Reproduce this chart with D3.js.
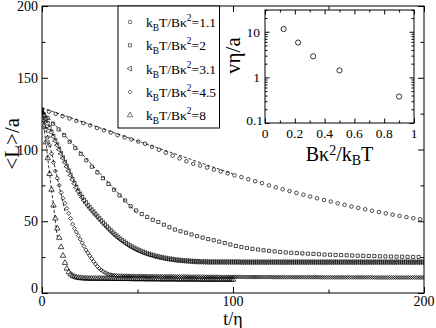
<!DOCTYPE html>
<html>
<head>
<meta charset="utf-8">
<script src="https://cdn.jsdelivr.net/npm/d3@7"></script>
<style>
  body { margin: 0; background: #fff; }
  text { font-family: "Liberation Serif", "Times New Roman", "DejaVu Serif", serif; }
</style>
</head>
<body>
<div id="chart"></div>
<script>
// legend values k_BT/Bk^2
const kTLabels = ['1.1', '2', '3.1', '4.5', '8'];

// sampling step in t for each run
const steps = [3.6, 2.9, 1, 1, 1];

const run1 = [128,126.4,124.8,123.2,121.6,120,118.4,116.8,115,113.4,111.8,110,108.5,107,105.5,104,101.8,99.8,97.7,95.8,
  93.8,91.8,90,88.8,87.4,86,84.7,83.4,82,80.8,79.3,77.9,76.5,75,73.6,72.3,71,69.7,68.5,67.2,
  66,64.8,63.7,62.5,61.4,60.3,59.3,58.3,57.3,56.4,55.5,54.6,53.7,52.9,52.1,51.4];

const run2 = [126,122,118,114,110,105.5,101,97,92.5,88,84,80,76,72,68,64.5,60.5,57.5,55,53,
  51,49.5,47.6,45.8,44.2,43,42,40.8,39.6,38.6,37.6,36.8,35.8,34.8,33.8,32.8,32,31.4,30.8,30.3,
  29.8,29.4,29,28.6,28.3,28,27.8,27.6,27.4,27.2,27,26.8,26.7,26.5,26.4,26.3,26.1,26,25.9,25.8,
  25.7,25.6,25.5,25.4,25.3,25.3,25.2,25.1,25.1];

const run3 = [127,124,121,118,115,112,109,106,103,100,
  97,94,91,88,85,82,79,76.2,73.5,71,
  68.8,66.6,64.6,62.8,61,59.4,57.8,56.3,54.8,53.3,
  51.8,50.3,48.8,47.4,46,44.6,43.3,42,40.8,39.6,
  38.5,37.4,36.4,35.4,34.5,33.6,32.8,32,31.3,30.6,
  30,29.4,28.8,28.3,27.8,27.3,26.9,26.5,26.1,25.7,
  25.4,25.1,24.8,24.5,24.3,24,23.8,23.6,23.4,23.2,
  23,22.9,22.7,22.6,22.5,22.4,22.3,22.2,22.1,22,
  21.9,21.9,21.8,21.8,21.7,21.7,21.7,21.6,21.6,21.6,
  21.6,21.6,21.6,21.6,21.6,21.6,21.6,21.6,21.6,21.6,
  21.6,21.6,21.6,21.6,21.5,21.5,21.5,21.5,21.5,21.5,
  21.5,21.5,21.5,21.5,21.5,21.5,21.5,21.5,21.5,21.5,
  21.5,21.5,21.5,21.5,21.5,21.5,21.5,21.5,21.5,21.5,
  21.5,21.5,21.5,21.5,21.5,21.5,21.5,21.5,21.5,21.5,
  21.5,21.5,21.5,21.5,21.5,21.5,21.5,21.5,21.5,21.5,
  21.5,21.5,21.5,21.5,21.5,21.5,21.5,21.5,21.5,21.5,
  21.5,21.5,21.5,21.5,21.5,21.5,21.5,21.5,21.5,21.5,
  21.5,21.5,21.5,21.5,21.5,21.5,21.5,21.5,21.5,21.5,
  21.5,21.5,21.5,21.5,21.5,21.5,21.5,21.5,21.5,21.5,
  21.5,21.5,21.5,21.5,21.5,21.5,21.5,21.5,21.5,21.5,
  21.5];

const run4 = [126,120,114,108.5,103,97,91,85,80,75,
  70,66,62.5,59,55.5,52,48,45,42.5,40,
  37.5,35,32.5,30,28,26,24,22,20.2,18.5,
  17,16,15,14.2,13.5,13,12.7,12.5,12.3,12.2,
  12.1,12.1,12,12,12,11.9,11.9,11.9,11.9,11.8,
  11.8,11.8,11.8,11.8,11.8,11.7,11.7,11.7,11.7,11.7,
  11.7,11.7,11.6,11.6,11.6,11.6,11.6,11.6,11.6,11.5,
  11.5,11.5,11.5,11.5,11.5,11.5,11.5,11.4,11.4,11.4,
  11.4,11.4,11.4,11.4,11.4,11.3,11.3,11.3,11.3,11.3,
  11.3,11.3,11.3,11.3,11.2,11.2,11.2,11.2,11.2,11.2,
  11.2,11.2,11.2,11.2,11.2,11.2,11.1,11.1,11.1,11.1,
  11.1,11.1,11.1,11.1,11.1,11.1,11.1,11.1,11.1,11.1,
  11.1,11,11,11,11,11,11,11,11,11,
  11,11,11,11,11,11,11,11,11,11,
  11,11,11,11,11,11,10.9,10.9,10.9,10.9,
  10.9,10.9,10.9,10.9,10.9,10.9,10.9,10.9,10.9,10.9,
  10.9,10.9,10.9,10.9,10.9,10.9,10.9,10.9,10.9,10.9,
  10.9,10.9,10.9,10.9,10.8,10.8,10.8,10.8,10.8,10.8,
  10.8,10.8,10.8,10.8,10.8,10.8,10.8,10.8,10.8,10.8,
  10.8,10.8,10.8,10.8,10.8,10.8,10.8,10.8,10.8,10.8,
  10.8];

const run5 = [126,116,105,94,83,72,61,52,45,38.5,
  32,26,21,17,14.5,13,12,11.3,10.9,10.6,
  10.4,10.3,10.2,10.1,10.1,10,10,10,10,10,
  10,10,10,9.9,9.9,9.9,9.9,9.9,9.9,9.9,
  9.8,9.8,9.8,9.8,9.8,9.8,9.8,9.7,9.7,9.7,
  9.7,9.7,9.7,9.7,9.6,9.6,9.6,9.6,9.6,9.6,
  9.6,9.6,9.5,9.5,9.5,9.5,9.5,9.5,9.5,9.5,
  9.5,9.5,9.4,9.4,9.4,9.4,9.4,9.4,9.4,9.4,
  9.4,9.4,9.4,9.4,9.3,9.3,9.3,9.3,9.3,9.3,
  9.3,9.3,9.3,9.3,9.3,9.3,9.3,9.3,9.3,9.3,
  9.3];

// dashed initial-slope lines: [t0, L0, t1, L1]
const fitLines = [
  [0, 129, 100, 83],
  [0, 127, 50, 55],
  [0, 127, 22, 63],
  [0, 127, 12, 57],
  [0, 127, 8, 39]
];

// inset: v eta/a against B k^2/k_BT
const insetX = [0.125, 0.222, 0.323, 0.5, 0.9];
const insetY = [11.5, 5.8, 2.9, 1.42, 0.38];

const mainXTicks = [0, 100, 200];
const mainYTicks = [0, 50, 100, 150, 200];
const insetXTicks = [0, 0.2, 0.4, 0.6, 0.8, 1];
const insetYTicks = [0.1, 1, 10];

const runs = [run1, run2, run3, run4, run5];

const W = 436, H = 328;
const margin = { top: 6, right: 12, bottom: 35, left: 42 };
const graphWidth = W - margin.left - margin.right;
const graphHeight = H - margin.top - margin.bottom;

const svg = d3.select('#chart')
  .append('svg')
  .attr('width', W)
  .attr('height', H)
  .attr('font-family', '"Liberation Serif", "Times New Roman", serif');

const graph = svg.append('g')
  .attr('transform', `translate(${margin.left}, ${margin.top})`);

//Scales
const x = d3.scaleLinear().domain([0, 200]).range([0, graphWidth]);
const y = d3.scaleLinear().domain([0, 200]).range([graphHeight, 0]);

// markers
const sym = [
  { type: d3.symbolCircle, size: 10, rot: 0 },
  { type: d3.symbolSquare, size: 10, rot: 0 },
  { type: d3.symbolTriangle, size: 11, rot: -90 },
  { type: d3.symbolSquare, size: 8, rot: 45 },
  { type: d3.symbolTriangle, size: 13, rot: 0 }
];

// ticks, pointing inward, on all four sides
const addTicks = (g, axisFn, scale, values, size, tx, ty) => {
  g.append('g')
    .attr('transform', `translate(${tx}, ${ty})`)
    .call(axisFn(scale).tickValues(values).tickSize(-size).tickFormat(''))
    .call(a => a.select('.domain').remove())
    .call(a => a.selectAll('text').remove())
    .call(a => a.selectAll('line').attr('stroke', '#000').attr('stroke-width', 1));
};

const axesGroup = graph.append('g');
addTicks(axesGroup, d3.axisBottom, x, mainXTicks, 6, 0, graphHeight);
addTicks(axesGroup, d3.axisBottom, x, [50, 150], 3.5, 0, graphHeight);
addTicks(axesGroup, d3.axisTop, x, mainXTicks, 6, 0, 0);
addTicks(axesGroup, d3.axisTop, x, [50, 150], 3.5, 0, 0);
addTicks(axesGroup, d3.axisLeft, y, mainYTicks, 6, 0, 0);
addTicks(axesGroup, d3.axisLeft, y, [25, 75, 125, 175], 3.5, 0, 0);
addTicks(axesGroup, d3.axisRight, y, mainYTicks, 6, graphWidth, 0);
addTicks(axesGroup, d3.axisRight, y, [25, 75, 125, 175], 3.5, graphWidth, 0);

// tick labels
graph.append('g').selectAll('text')
  .data(mainXTicks)
  .enter().append('text')
  .attr('x', d => x(d))
  .attr('y', graphHeight + 13)
  .attr('text-anchor', 'middle')
  .attr('font-size', 14)
  .text(d => d);

graph.append('g').selectAll('text')
  .data(mainYTicks)
  .enter().append('text')
  .attr('x', -4)
  .attr('y', d => y(d) + (d === 0 ? 0 : 5))
  .attr('text-anchor', 'end')
  .attr('font-size', 14)
  .text(d => d);

// axis titles
svg.append('text')
  .attr('x', margin.left + x(100))
  .attr('y', 325)
  .attr('text-anchor', 'middle')
  .attr('font-size', 18)
  .text('t/η');

svg.append('text')
  .attr('transform', `translate(19, ${margin.top + y(104)}) rotate(-90)`)
  .attr('text-anchor', 'middle')
  .attr('font-size', 21)
  .text('<L>/a');

// data
graph.append('clipPath').attr('id', 'clip')
  .append('rect').attr('width', graphWidth).attr('height', graphHeight);

const dataGroup = graph.append('g').attr('clip-path', 'url(#clip)');

fitLines.forEach(f => {
  dataGroup.append('line')
    .attr('x1', x(f[0])).attr('y1', y(f[1]))
    .attr('x2', x(f[2])).attr('y2', y(f[3]))
    .attr('stroke', '#000')
    .attr('stroke-width', 0.8)
    .attr('stroke-dasharray', '3,2');
});

runs.forEach((run, i) => {
  const s = sym[i];
  const path = d3.symbol().type(s.type).size(s.size)();
  dataGroup.append('g').selectAll('path')
    .data(run)
    .enter().append('path')
    .attr('d', path)
    .attr('transform', (d, j) => `translate(${x(j * steps[i])}, ${y(d)}) rotate(${s.rot})`)
    .attr('fill', 'none')
    .attr('stroke', '#000')
    .attr('stroke-width', 0.7);
});

// frame
graph.append('rect')
  .attr('width', graphWidth)
  .attr('height', graphHeight)
  .attr('fill', 'none')
  .attr('stroke', '#000')
  .attr('stroke-width', 1);

// text with sub / superscripts
const richText = (sel, parts, size) => {
  let prev = 0;
  parts.forEach(p => {
    const shift = p.sub ? 4 : (p.sup ? -6 : 0);
    const ts = sel.append('tspan').attr('dy', shift - prev).text(p.t);
    ts.attr('font-size', shift !== 0 ? size * 0.7 : size);
    prev = shift;
  });
};

// legend
const legend = svg.append('g').attr('transform', 'translate(118, 6)');
legend.append('rect')
  .attr('width', 101.5)
  .attr('height', 122)
  .attr('fill', '#fff')
  .attr('stroke', '#000')
  .attr('stroke-width', 1);

kTLabels.forEach((lab, i) => {
  const cy = 16 + i * 23.3;
  const s = sym[i];
  legend.append('path')
    .attr('d', d3.symbol().type(s.type).size(s.size)())
    .attr('transform', `translate(12, ${cy}) rotate(${s.rot})`)
    .attr('fill', 'none')
    .attr('stroke', '#333')
    .attr('stroke-width', 0.7);
  const t = legend.append('text')
    .attr('x', 28)
    .attr('y', cy + 5)
    .attr('font-size', 13);
  richText(t, [{ t: 'k' }, { t: 'B', sub: true }, { t: 'T/Bκ' }, { t: '2', sup: true }, { t: '=' + lab }], 13.5);
});

// inset
const inset = { left: 265, top: 10, width: 149, height: 113 };
const ig = svg.append('g').attr('transform', `translate(${inset.left}, ${inset.top})`);

const ix = d3.scaleLinear().domain([0, 1]).range([0, inset.width]);
const iy = d3.scaleLog().domain([0.1, 30]).range([inset.height, 0]);

ig.append('rect')
  .attr('width', inset.width)
  .attr('height', inset.height)
  .attr('fill', '#fff');

const minorLog = [];
[0.1, 1, 10].forEach(dec => {
  for (let k = 2; k <= 9; k++) {
    if (dec * k <= 30) minorLog.push(dec * k);
  }
});

const insetMinorX = [0.1, 0.3, 0.5, 0.7, 0.9];
addTicks(ig, d3.axisBottom, ix, insetXTicks, 4.5, 0, inset.height);
addTicks(ig, d3.axisBottom, ix, insetMinorX, 2.5, 0, inset.height);
addTicks(ig, d3.axisTop, ix, insetXTicks, 4.5, 0, 0);
addTicks(ig, d3.axisTop, ix, insetMinorX, 2.5, 0, 0);
addTicks(ig, d3.axisLeft, iy, insetYTicks, 4.5, 0, 0);
addTicks(ig, d3.axisLeft, iy, minorLog, 2.5, 0, 0);
addTicks(ig, d3.axisRight, iy, insetYTicks, 4.5, inset.width, 0);
addTicks(ig, d3.axisRight, iy, minorLog, 2.5, inset.width, 0);

ig.append('rect')
  .attr('width', inset.width)
  .attr('height', inset.height)
  .attr('fill', 'none')
  .attr('stroke', '#000')
  .attr('stroke-width', 1);

ig.append('g').selectAll('circle')
  .data(insetX)
  .enter().append('circle')
  .attr('cx', d => ix(d))
  .attr('cy', (d, i) => iy(insetY[i]))
  .attr('r', 2.6)
  .attr('fill', 'none')
  .attr('stroke', '#000')
  .attr('stroke-width', 0.8);

ig.append('g').selectAll('text')
  .data(insetXTicks)
  .enter().append('text')
  .attr('x', d => ix(d))
  .attr('y', inset.height + 15)
  .attr('text-anchor', 'middle')
  .attr('font-size', 13.5)
  .text(d => d);

ig.append('g').selectAll('text')
  .data(insetYTicks)
  .enter().append('text')
  .attr('x', d => (d === 0.1 ? -2 : -5))
  .attr('y', d => iy(d) + (d === 0.1 ? 2 : 5))
  .attr('text-anchor', 'end')
  .attr('font-size', 13.5)
  .text(d => d);

const ixl = ig.append('text')
  .attr('x', ix(0.5))
  .attr('y', inset.height + 38)
  .attr('text-anchor', 'middle')
  .attr('font-size', 20);
richText(ixl, [{ t: 'Bκ' }, { t: '2', sup: true }, { t: '/k' }, { t: 'B', sub: true }, { t: 'T' }], 20);

ig.append('text')
  .attr('transform', `translate(-25, ${iy(3)}) rotate(-90)`)
  .attr('text-anchor', 'middle')
  .attr('font-size', 21)
  .text('vη/a');
</script>
</body>
</html>
